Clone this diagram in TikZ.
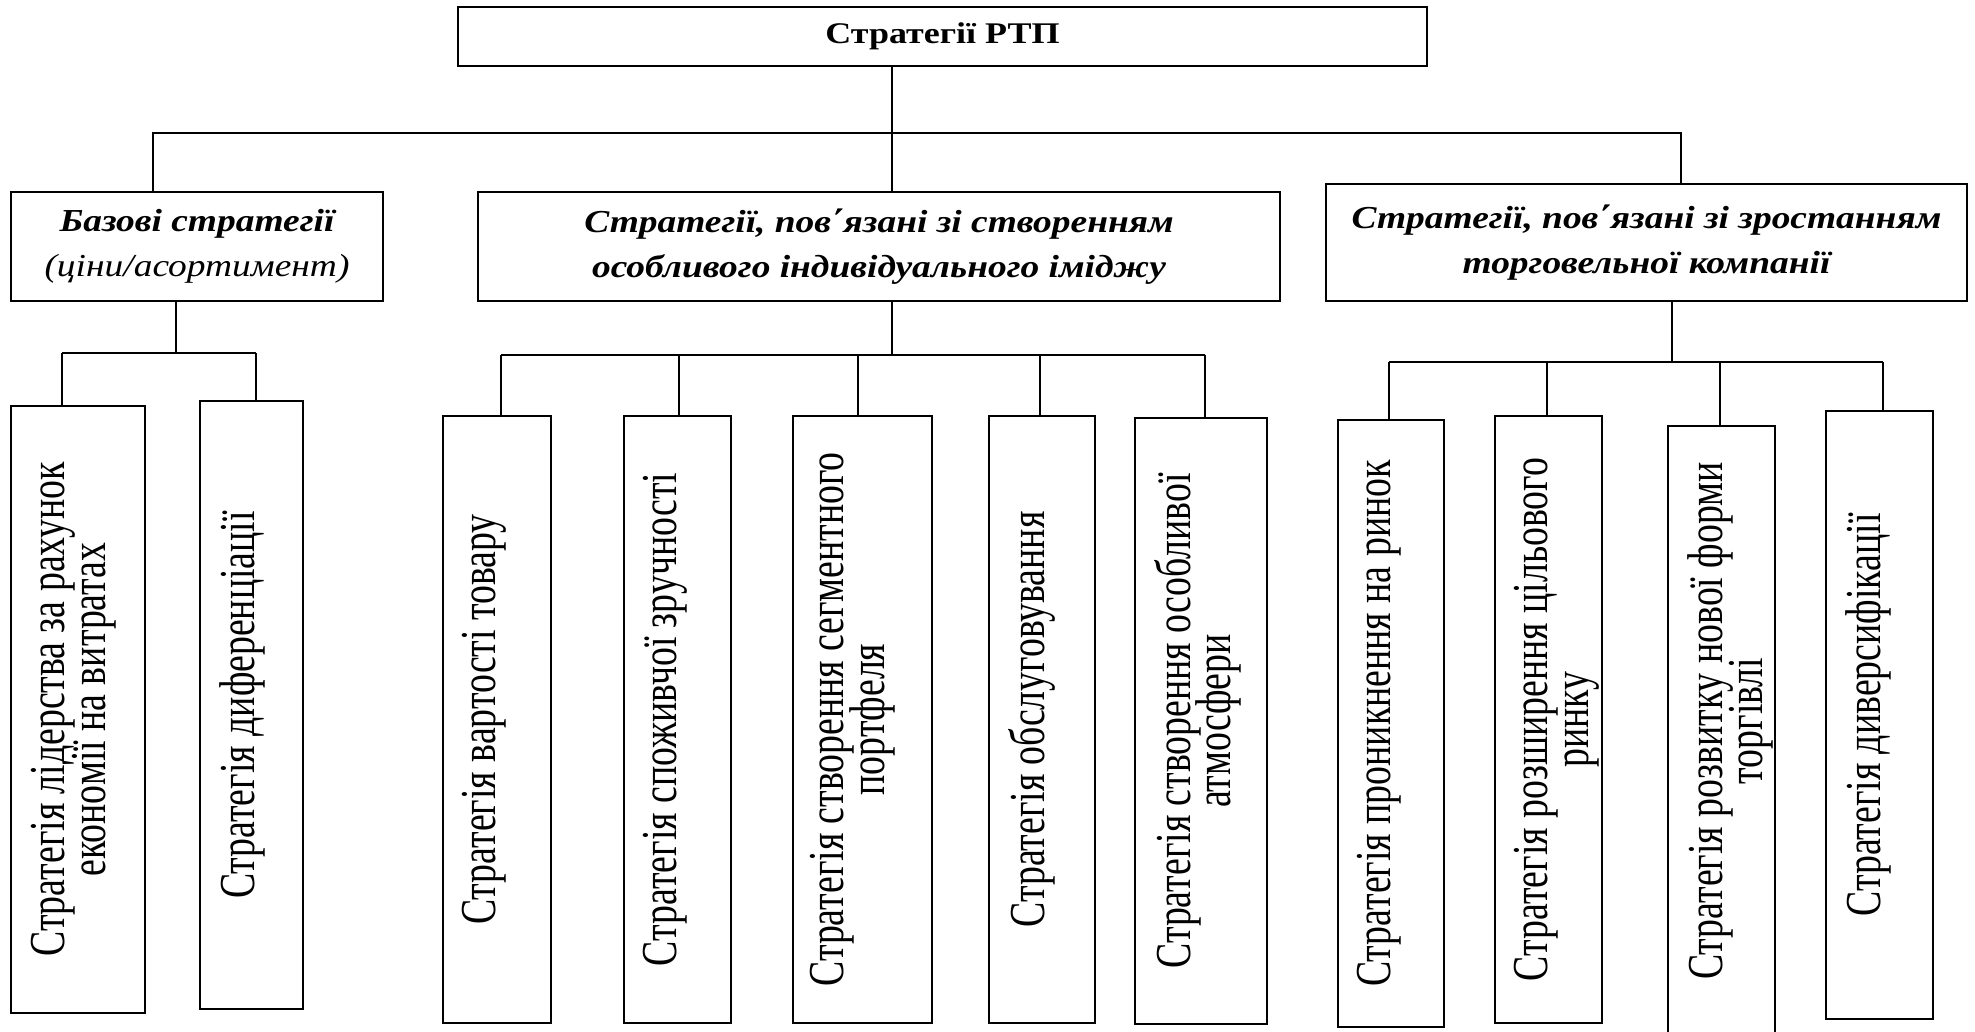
\documentclass[tikz,border=0pt]{standalone}
\usepackage{fontspec}
\setmainfont{Liberation Serif}

\tikzset{
  box/.style={draw, line width=2pt, inner sep=0pt},
  head/.style={box, xscale=1.17, align=center, font={\fontsize{32}{45}\selectfont\bfseries\itshape}},
  leaf/.style={box, minimum height=607pt},
  leaftext/.style={anchor=north, xscale=1.33, rotate=90, inner sep=0pt, align=center,
    font={\fontsize{37.8}{30.5}\selectfont\lineskiplimit=-50pt}},
  link/.style={line width=1.5pt}
}

\begin{document}
\begin{tikzpicture}[x=1pt, y=-1pt]
  \useasboundingbox (0,0) rectangle (1975,1031);
  \clip (0,0) rectangle (1975,1031);
  %Top
  \node[box, xscale=1.2, minimum width=807.5pt, minimum height=59pt, font={\fontsize{30}{34}\selectfont\bfseries}] (rtp) at (942.5,36.5) {Стратегії РТП};
  %Groups
  \node[head, minimum width=318pt, minimum height=109pt] (base) at (197,246.5) {Базові стратегії\\\mdseries(ціни/асортимент)};
  \node[head, minimum width=685.5pt, minimum height=109pt] (image) at (879,246.5) {Стратегії, пов΄язані зі створенням\\особливого індивідуального іміджу};
  \node[head, minimum width=548pt, minimum height=117pt] (growth) at (1646.5,242.5) {Стратегії, пов΄язані зі зростанням\\торговельної компанії};
  %Base leaves
  \node[leaf, minimum width=134pt] (lead) at (78,709.5) {};
  \node[leaf, minimum width=103pt, minimum height=608pt] (diff) at (251.5,705) {};
  %Image leaves
  \node[leaf, minimum width=108pt] (value) at (497,719.5) {};
  \node[leaf, minimum width=107pt] (conv) at (677.5,719.5) {};
  \node[leaf, minimum width=139pt] (portf) at (862.5,719.5) {};
  \node[leaf, minimum width=106pt] (serv) at (1042,719.5) {};
  \node[leaf, minimum width=132pt, minimum height=606pt] (atmos) at (1201,721) {};
  %Growth leaves
  \node[leaf, minimum width=106pt] (penet) at (1391,723.5) {};
  \node[leaf, minimum width=107pt] (expand) at (1548.5,719.5) {};
  \node[leaf, minimum width=107pt, minimum height=614pt] (newform) at (1721.5,733) {};
  \node[leaf, minimum width=107pt, minimum height=608pt] (divers) at (1879.5,715) {};
  %Leaf texts
  \node[leaftext] (leadtxt) at ([xshift=21pt]lead.west) {Стратегія лідерства за рахунок\\економії на витратах};
  \node[leaftext] (difftxt) at ([xshift=20pt]diff.west) {Стратегія диференціації};
  \node[leaftext] (valuetxt) at ([xshift=20pt]value.west) {Стратегія вартості товару};
  \node[leaftext] (convtxt) at ([xshift=20pt]conv.west) {Стратегія споживчої зручності};
  \node[leaftext] (portftxt) at ([xshift=18pt]portf.west) {Стратегія створення сегментного\\портфеля};
  \node[leaftext] (servtxt) at ([xshift=20pt]serv.west) {Стратегія обслуговування};
  \node[leaftext] (atmostxt) at ([xshift=20pt]atmos.west) {Стратегія створення особливої\\атмосфери};
  \node[leaftext] (penettxt) at ([xshift=20pt]penet.west) {Стратегія проникнення на ринок};
  \node[leaftext] (expandtxt) at ([xshift=20pt]expand.west) {Стратегія розширення цільового\\ринку};
  \node[leaftext] (newformtxt) at ([xshift=20pt, yshift=12pt]newform.west) {Стратегія розвитку нової форми\\торгівлі};
  \node[leaftext] (diverstxt) at ([xshift=20pt]divers.west) {Стратегія диверсифікації};
  %Main bus
  \coordinate (mbL) at (153,133);
  \coordinate (mbM) at (892,133);
  \coordinate (mbR) at (1681,133);
  \draw[link] (rtp.south -| mbM) -- (image.north -| mbM);
  \draw[link] (base.north -| mbL) -- (mbL) -- (mbR) -- (growth.north -| mbR);
  %Base bus
  \coordinate (bstem) at (176,353);
  \draw[link] (base.south -| bstem) -- (bstem);
  \foreach \n/\x in {lead/62, diff/256}{
    \coordinate (j\n) at (\x,353);
    \draw[link] (j\n) -- (j\n |- \n.north);
  }
  \draw[link] (jlead) -- (jdiff);
  %Image bus
  \coordinate (istem) at (892,355);
  \draw[link] (image.south -| istem) -- (istem);
  \foreach \n/\x in {value/501, conv/679, portf/858, serv/1040, atmos/1205}{
    \coordinate (j\n) at (\x,355);
    \draw[link] (j\n) -- (j\n |- \n.north);
  }
  \draw[link] (jvalue) -- (jatmos);
  %Growth bus
  \coordinate (gstem) at (1672,362);
  \draw[link] (growth.south -| gstem) -- (gstem);
  \foreach \n/\x in {penet/1389, expand/1547, newform/1720, divers/1883}{
    \coordinate (j\n) at (\x,362);
    \draw[link] (j\n) -- (j\n |- \n.north);
  }
  \draw[link] (jpenet) -- (jdivers);
\end{tikzpicture}
\end{document}
